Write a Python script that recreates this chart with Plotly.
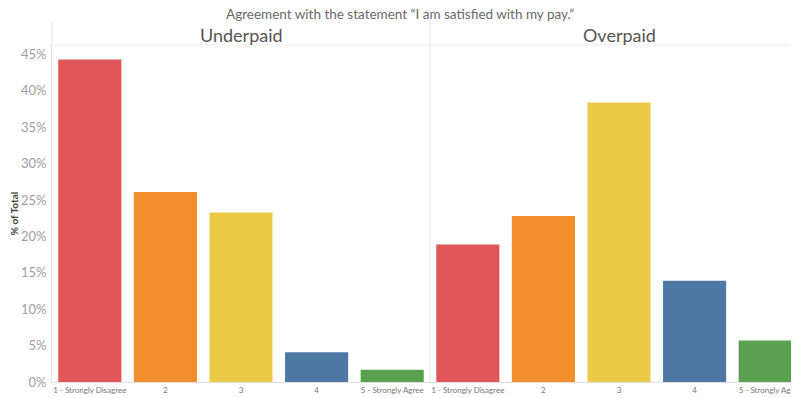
import plotly.graph_objects as go

title_text = "Agreement with the statement \u201cI am satisfied with my pay.\u201d"
panels = ["Underpaid", "Overpaid"]
categories = ["1 - Strongly Disagree", "2", "3", "4", "5 - Strongly Agree"]
underpaid_pct = [44.3, 26.1, 23.3, 4.1, 1.7]
overpaid_pct = [18.9, 22.8, 38.4, 13.9, 5.7]
bar_colors = ["#E15759", "#F28E2B", "#EDC948", "#4E79A7", "#59A14F"]
y_ticks = [0, 5, 10, 15, 20, 25, 30, 35, 40, 45]
y_ticklabels = [f"{v}%" for v in y_ticks]

# page has an 8px body margin; figure coordinates are page coordinates minus 8.
# The right panel runs past the window edge and is cut off by the page, as in the reference.
ML, MR, MT, MB = 44, 0, 37, 16
panel_px = 378
W, H = ML + 2 * panel_px, 390
plot_w = W - ML - MR
plot_h = H - MT - MB
split = 0.5
x_pos = list(range(len(categories)))

FONT = "Lato"
fig = go.Figure()
fig.add_trace(go.Bar(x=x_pos, y=underpaid_pct, marker=dict(color=bar_colors, line=dict(width=0)),
                     width=0.835, xaxis="x", yaxis="y", showlegend=False))
fig.add_trace(go.Bar(x=x_pos, y=overpaid_pct, marker=dict(color=bar_colors, line=dict(width=0)),
                     width=0.835, xaxis="x2", yaxis="y", showlegend=False))

xcommon = dict(tickmode="array", tickvals=x_pos, ticktext=categories,
               tickfont=dict(family=FONT, size=8, color="#777"), showgrid=False,
               zeroline=False, showline=True, linecolor="#e2e2e2", linewidth=1,
               ticks="", fixedrange=True, automargin=False, range=[-0.5, 4.5])

fig.update_layout(
    width=W, height=H,
    margin=dict(l=ML, r=MR, t=MT, b=MB),
    paper_bgcolor="white", plot_bgcolor="white",
    bargap=0.16,
    xaxis=dict(domain=[0, split], **xcommon),
    xaxis2=dict(domain=[split, 1], anchor="y", **xcommon),
    yaxis=dict(range=[0, 46.3], tickmode="array", tickvals=y_ticks, ticktext=y_ticklabels,
               tickfont=dict(family=FONT, size=13, color="#a0a0a0"), showgrid=False,
               zeroline=False, showline=True, linecolor="#e2e2e2", linewidth=1,
               ticks="", ticklabelstandoff=2, automargin=False,
               title=dict(text="<b>% of Total</b>", font=dict(family=FONT, size=10, color="#444"),
                          standoff=6)),
    font=dict(family=FONT),
)

top_y = 1 + (MT - 14) / plot_h
fig.add_shape(type="line", xref="paper", yref="paper", x0=0, x1=0, y0=1, y1=top_y,
              line=dict(color="#e2e2e2", width=1))
fig.add_shape(type="line", xref="paper", yref="paper", x0=split, x1=split, y0=0, y1=top_y,
              line=dict(color="#e2e2e2", width=1))
fig.add_shape(type="line", xref="paper", yref="paper", x0=0, x1=1, y0=1, y1=1,
              line=dict(color="#ececec", width=1))

header_y = 1 + (MT - 27) / plot_h
fig.add_annotation(text=panels[0], xref="x", x=2, yref="paper", y=header_y, yanchor="middle",
                   showarrow=False, font=dict(family=FONT, size=18, color="#555"))
fig.add_annotation(text=panels[1], xref="x2", x=2, yref="paper", y=header_y, yanchor="middle",
                   showarrow=False, font=dict(family=FONT, size=18, color="#555"))
fig.add_annotation(text=title_text, xref="paper", x=(392 - ML) / plot_w, yref="paper",
                   y=1 + (MT - 6) / plot_h, yanchor="middle", showarrow=False,
                   font=dict(family=FONT, size=13.5, color="#6a6a6a"))

fig.write_html("out.html")
